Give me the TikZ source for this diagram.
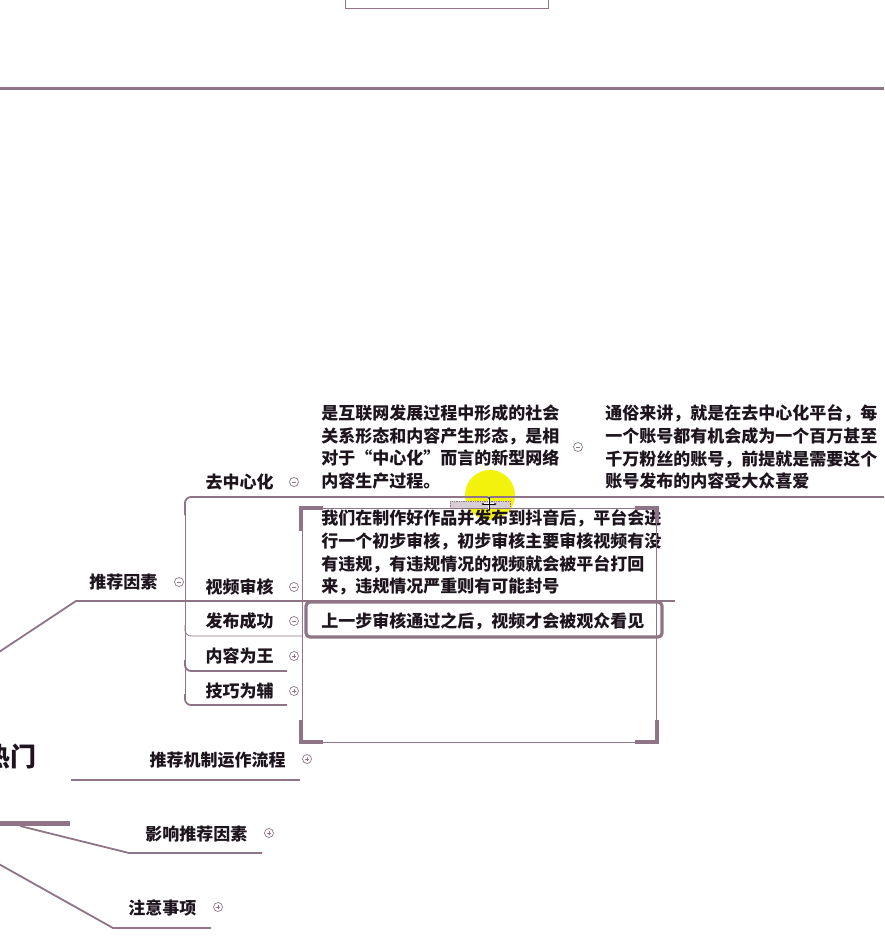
\documentclass[tikz,border=0pt]{standalone}
\usepackage{fontspec}
\setmainfont{Noto Sans CJK SC}
\usetikzlibrary{arrows.meta}
\definecolor{branch}{RGB}{142,116,134}
\definecolor{ink}{RGB}{30,20,30}
\definecolor{glow}{RGB}{242,242,12}
\tikzset{every picture/.style={line width=0.75pt}}
\tikzset{
  topic/.style={font=\bfseries\fontsize{17}{22.7}\selectfont, text=ink, inner sep=0pt, align=left},
  central/.style={font=\bfseries\fontsize{26}{30}\selectfont, text=ink, inner sep=0pt},
  fold/.style={circle, draw=branch, line width=0.7pt, minimum size=9pt, inner sep=0pt},
  fold minus/.style={fold, path picture={\draw[branch, line width=0.7pt] ([xshift=-2.4pt]path picture bounding box.center) -- ([xshift=2.4pt]path picture bounding box.center);}},
  fold plus/.style={fold, path picture={\draw[branch, line width=0.7pt] ([xshift=-2.4pt]path picture bounding box.center) -- ([xshift=2.4pt]path picture bounding box.center) ([yshift=-2.4pt]path picture bounding box.center) -- ([yshift=2.4pt]path picture bounding box.center);}},
  underline/.style={branch, line width=1.8pt},
  thinline/.style={branch, line width=0.8pt},
}

\begin{document}
\begin{tikzpicture}[x=1pt,y=1pt,yscale=-1]
    \useasboundingbox (0,0) rectangle (884,944);
    % cursor highlight under everything
    \fill[glow] (490,495) circle (25);
    % top frame and divider
    \draw[thinline] (345,-4) -- (345,8) -- (548,8) -- (548,-4);
    \draw[branch, line width=3pt] (0,89) -- (884,89);

    % central topic
    \node[central, anchor=east] (hot) at (37,757) {热门};
    \draw[branch, line width=5pt] (-2,823) -- (70,823);

    % branch: 推荐因素
    \node[topic, anchor=west] (factor) at (89,582) {推荐因素};
    \node[fold minus] (factorF) at (179,582) {};
    \coordinate (bend1) at (76,601);
    \coordinate (fork) at (185,601);
    \draw[underline] (-4,654) -- (bend1) -- (fork);

    % children of 推荐因素
    \node[topic, anchor=east] (decent) at (274,482) {去中心化};
    \node[fold minus] (decentF) at (294,482) {};
    \node[topic, anchor=east] (review) at (274,587) {视频审核};
    \node[fold minus] (reviewF) at (294,587) {};
    \node[topic, anchor=east] (publish) at (274,621) {发布成功};
    \node[fold minus] (publishF) at (294,621) {};
    \node[topic, anchor=east] (content) at (274,656) {内容为王};
    \node[fold plus] (contentF) at (294,656) {};
    \node[topic, anchor=east] (skill) at (274,691) {技巧为辅};
    \node[fold plus] (skillF) at (294,691) {};

    \draw[thinline] (185,505) -- (185,698);
    \draw[underline, rounded corners=6pt] (185,515) -- (185,497) -- (884,497);
    \draw[underline] (fork) -- (675,601);
    \draw[thinline, rounded corners=6pt] (185,625) -- (185,636) -- (302,636);
    \draw[underline, rounded corners=6pt] (185,660) -- (185,671) -- (287,671);
    \draw[underline, rounded corners=6pt] (185,694) -- (185,705) -- (287,705);

    % details of 去中心化
    \node[topic, anchor=west] (decentA) at (321,447) {是互联网发展过程中形成的社会\\关系形态和内容产生形态，是相\\对于“中心化”而言的新型网络\\内容生产过程。};
    \node[fold minus] (decentAF) at (578,447) {};
    \node[topic, anchor=west] (decentB) at (605,447) {通俗来讲，就是在去中心化平台，每\\一个账号都有机会成为一个百万甚至\\千万粉丝的账号，前提就是需要这个\\账号发布的内容受大众喜爱};

    % details of 视频审核 and 发布成功
    \node[topic, anchor=west] (reviewA) at (321,552.5) {我们在制作好作品并发布到抖音后，平台会进\\行一个初步审核，初步审核主要审核视频有没\\有违规，有违规情况的视频就会被平台打回\\来，违规情况严重则有可能封号};
    \draw[branch, line width=3.2pt, rounded corners=4pt] (306,602) rectangle (662,637);
    \node[topic, anchor=west] (publishA) at (321,621) {上一步审核通过之后，视频才会被观众看见};

    % selection frame
    \draw[thinline] (302,508) rectangle (656,742);
    \draw[branch, line width=3.5pt] (301,531) -- (301,508) -- (323,508);
    \draw[branch, line width=3.5pt] (635,508) -- (657,508) -- (657,523);
    \draw[branch, line width=3.5pt] (301,720) -- (301,742) -- (323,742);
    \draw[branch, line width=3.5pt] (635,742) -- (657,742) -- (657,720);

    % branch: 推荐机制运作流程
    \node[topic, anchor=east] (flow) at (286,760) {推荐机制运作流程};
    \node[fold plus] (flowF) at (307,759) {};
    \draw[underline] (71,780) -- (300,780);

    % branch: 影响推荐因素
    \node[topic, anchor=west] (impact) at (145,834) {影响推荐因素};
    \node[fold plus] (impactF) at (269,833) {};
    \coordinate (bend2) at (129,853);
    \draw[underline] (20,826) -- (bend2) -- (262,853);

    % branch: 注意事项
    \node[topic, anchor=west] (notice) at (128,908) {注意事项};
    \node[fold plus] (noticeF) at (218,907) {};
    \coordinate (bend3) at (113,928);
    \draw[underline] (-3,863) -- (bend3) -- (211,928);

    % move handle and cursor
    \draw[branch, densely dotted, fill=branch!35] (450,501) rectangle (510,508);
    \draw[white, line width=2.6pt] (481,504) -- (497,504) (489,496) -- (489,512);
    \draw[{Stealth[length=3pt]}-{Stealth[length=3pt]}, line width=0.8pt] (481,504) -- (497,504);
    \draw[{Stealth[length=3pt]}-{Stealth[length=3pt]}, line width=0.8pt] (489,496) -- (489,512);
\end{tikzpicture}
\end{document}
